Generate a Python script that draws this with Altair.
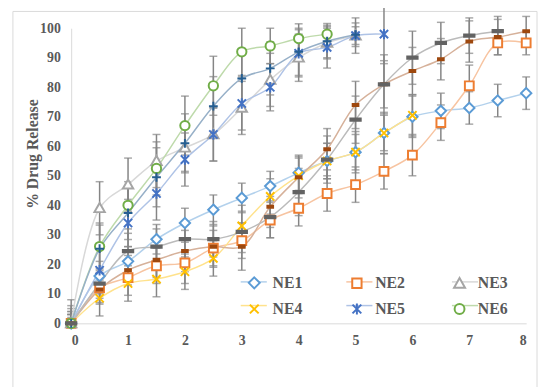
import altair as alt
import pandas as pd

# ---------------- data ----------------
time_h = [0, 0.5, 1, 1.5, 2, 2.5, 3, 3.5, 4, 4.5, 5, 5.5, 6, 6.5, 7, 7.5, 8]
series_names = ["NE1", "NE2", "NE3", "NE4", "NE5", "NE6", "NE7", "NE8", "NE9"]
legend_names = ["NE1", "NE2", "NE3", "NE4", "NE5", "NE6"]

ne1 = [0, 16, 21, 28.5, 34, 38.5, 42.5, 46.5, 51, 55, 58, 64.5, 70, 72, 73, 75.5, 78]
ne1_err = [2, 5, 5, 5, 5, 5, 5, 5, 6, 6, 6, 6, 7, 6, 5.5, 5.5, 5.5]
ne2 = [0, 12, 15.5, 19.5, 20.5, 25.5, 28, 35, 39, 44, 47, 51.5, 57, 68, 80.5, 95, 95]
ne2_err = [3, 5, 6, 6, 7, 6, 6, 6, 6, 6, 6, 6, 7, 6, 7, 4, 4]
ne3 = [0, 39, 47, 55, 59.5, 64, 73, 82.5, 90, 95, 97.5]
ne3_err = [8, 9, 9, 9, 8, 9, 9, 9, 8, 5, 3]
ne4 = [0, 8.5, 13.5, 15, 17.5, 22, 33, 43, 50, 55, 58, 64.5, 70.5]
ne4_err = [6, 6, 6, 6, 6, 6, 7, 6, 6, 6, 7, 7, 7]
ne5 = [0, 18, 34, 44, 55.5, 64, 74.5, 80, 91.5, 93.5, 97.5, 98]
ne5_err = [5, 8, 8, 9, 9, 9, 9, 8, 8, 7, 6, 10]
ne6 = [0, 26, 40, 52.5, 67, 80.5, 92, 94, 96.5, 98]
ne6_err = [4, 8, 8, 9, 10, 10, 8, 6, 5, 3]
ne7 = [0, 25.3, 37.4, 49.5, 61, 73.6, 83, 86.4, 92, 95.6, 97.8]
ne7_err = [4, 8, 9, 10, 10, 10, 10, 9, 8, 6, 4]
ne8 = [0, 11.5, 18, 21.5, 24.5, 26, 26, 39.5, 49.5, 59, 74, 81, 85.5, 89.5, 95.5, 97, 99]
ne8_err = [3, 5, 5, 6, 7, 7, 8, 7, 7, 7, 8, 8, 8, 7, 7, 6, 5]
ne9 = [0, 13.5, 24.5, 26, 28.5, 28.5, 31, 36, 44.5, 55.5, 69, 81, 90, 95, 97.5, 99]
ne9_err = [3, 5, 6, 6, 6, 6, 7, 7, 8, 8, 8, 10, 9, 7, 6, 5]

all_vals = [ne1, ne2, ne3, ne4, ne5, ne6, ne7, ne8, ne9]
all_errs = [ne1_err, ne2_err, ne3_err, ne4_err, ne5_err, ne6_err, ne7_err, ne8_err, ne9_err]

rows = []
for name, vals, errs in zip(series_names, all_vals, all_errs):
    for i, v in enumerate(vals):
        rows.append({"series": name, "t": time_h[i], "release": v,
                     "lo": max(v - errs[i], 0), "hi": v + errs[i]})
df = pd.DataFrame(rows)
legend_df = pd.DataFrame({"series": legend_names})

# ---------------- styles ----------------
strong = ["#5B9BD5", "#ED7D31", "#A5A5A5", "#FFC000", "#4472C4", "#70AD47",
          "#255E91", "#9E480E", "#636363"]
light = ["#B3D1EC", "#F7C4A1", "#D8D8D8", "#FFE28C", "#AFC3E6", "#BEDAAB",
         "#97B0C8", "#D6B19A", "#BBBBBB"]
fills = ["white"] * 7 + ["#9E480E", "#636363"]

def circle_path(r):
    return f"M{r},0A{r},{r},0,1,1,{-r},0A{r},{r},0,1,1,{r},0Z"

def poly(points, closed=True, s=1.0):
    d = "M" + "L".join(f"{x*s:.3f},{y*s:.3f}" for x, y in points)
    return d + ("Z" if closed else "")

def shapes(s):
    return [
        poly([(0, -1), (1, 0), (0, 1), (-1, 0)], s=s),                       # diamond
        poly([(-0.85, -0.85), (0.85, -0.85), (0.85, 0.85), (-0.85, 0.85)], s=s),  # square
        poly([(0, -1), (1, 0.75), (-1, 0.75)], s=s),                          # triangle
        poly([(-0.8, -0.8), (0.8, 0.8)], False, s) + poly([(-0.8, 0.8), (0.8, -0.8)], False, s),  # x
        poly([(-0.8, -0.8), (0.8, 0.8)], False, s) + poly([(-0.8, 0.8), (0.8, -0.8)], False, s)
        + poly([(0, -1), (0, 1)], False, s),                                   # star
        circle_path(0.9 * s),                                                  # circle
        poly([(-0.85, 0), (0.85, 0)], False, s) + poly([(0, -0.85), (0, 0.85)], False, s),  # plus
        poly([(-0.55, -0.2), (0.55, -0.2), (0.55, 0.2), (-0.55, 0.2)], s=s),  # short dash
        poly([(-1, -0.22), (1, -0.22), (1, 0.22), (-1, 0.22)], s=s),          # long dash
    ]

FONT = "Liberation Serif"
TXT = "#595959"
ERR = "#858585"

xs = alt.Scale(domain=[0, 8], nice=False)
ys = alt.Scale(domain=[0, 100], nice=False)
xaxis = alt.Axis(values=list(range(0, 9)), title=None, labelPadding=10, format="d")
yaxis = alt.Axis(values=list(range(0, 101, 10)), title="% Drug Release",
                 labelPadding=11, titleX=-39, titleY=127, titleAngle=270,
                 titleBaseline="middle", titleAlign="center")

X = alt.X("t:Q", scale=xs, axis=xaxis)
base = alt.Chart(df)

err_rule = base.mark_rule(color=ERR, strokeWidth=1.5).encode(
    x=X, y=alt.Y("lo:Q", scale=ys, axis=yaxis), y2="hi:Q")
cap_hi = base.mark_tick(orient="horizontal", color=ERR, size=8, thickness=1.5).encode(
    x=X, y=alt.Y("hi:Q", scale=ys, axis=yaxis))
cap_lo = base.mark_tick(orient="horizontal", color=ERR, size=8, thickness=1.5).encode(
    x=X, y=alt.Y("lo:Q", scale=ys, axis=yaxis))

lines = base.mark_line(interpolate="catmull-rom", strokeWidth=1.5).encode(
    x=X, y=alt.Y("release:Q", scale=ys, axis=yaxis),
    color=alt.Color("series:N", scale=alt.Scale(domain=series_names, range=light), legend=None),
)

points = base.mark_point(filled=False, size=110, strokeWidth=2, opacity=1).encode(
    x=X, y=alt.Y("release:Q", scale=ys, axis=yaxis),
    shape=alt.Shape("series:N", scale=alt.Scale(domain=series_names, range=shapes(1.0)), legend=None),
    stroke=alt.Stroke("series:N", scale=alt.Scale(domain=series_names, range=strong), legend=None),
    fill=alt.Fill("series:N", scale=alt.Scale(domain=series_names, range=fills), legend=None),
)

leg_common = dict(orient="none", legendX=171, legendY=243, columns=3, direction="horizontal",
                  symbolSize=700, labelFont=FONT, labelFontSize=16, labelFontWeight="bold",
                  labelColor=TXT, labelOffset=4, rowPadding=2, title=None, padding=0)

# line-only legend (no label text), laid out on the same grid as the marker legend
leg_lines = alt.Chart(legend_df).transform_filter("false").mark_line(strokeWidth=1.5).encode(
    color=alt.Color("series:N", scale=alt.Scale(domain=legend_names, range=light[:6]),
                    legend=alt.Legend(symbolType="stroke", symbolStrokeWidth=1.5,
                                      labelExpr="''", columnPadding=72, **leg_common)),
)

lshape = shapes(0.42)[:6]
pleg = alt.Legend(symbolStrokeWidth=2, columnPadding=40, **leg_common)
leg_points = alt.Chart(legend_df).transform_filter("false").mark_point(
    filled=False, strokeWidth=2, opacity=1).encode(
    shape=alt.Shape("series:N", scale=alt.Scale(domain=legend_names, range=lshape), legend=pleg),
    stroke=alt.Stroke("series:N", scale=alt.Scale(domain=legend_names, range=strong[:6]), legend=pleg),
    fill=alt.Fill("series:N", scale=alt.Scale(domain=legend_names, range=["white"] * 6), legend=pleg),
)

border = alt.Chart(pd.DataFrame({"a": [0]})).mark_rect(
    fill="transparent", stroke="#D9D9D9", strokeWidth=1).encode(
    x=alt.value(-59), x2=alt.value(472), y=alt.value(-17), y2=alt.value(420))

chart = alt.layer(
    border, err_rule, cap_hi, cap_lo, lines, points, leg_lines, leg_points
).resolve_scale(
    color="independent", shape="independent", stroke="independent", fill="independent"
).properties(
    width=461, height=299,
    autosize=alt.AutoSizeParams(type="none"),
    padding={"left": 64, "top": 18, "right": 13, "bottom": 62},
).configure_view(stroke=None).configure_axis(
    grid=False, ticks=False, domainColor="#D9D9D9", domainWidth=1,
    labelFont=FONT, labelFontSize=14, labelFontWeight="bold", labelColor=TXT,
    titleFont=FONT, titleFontSize=16, titleFontWeight="bold", titleColor=TXT,
)

chart.save("out.html", embed_options={"renderer": "svg", "actions": False})
